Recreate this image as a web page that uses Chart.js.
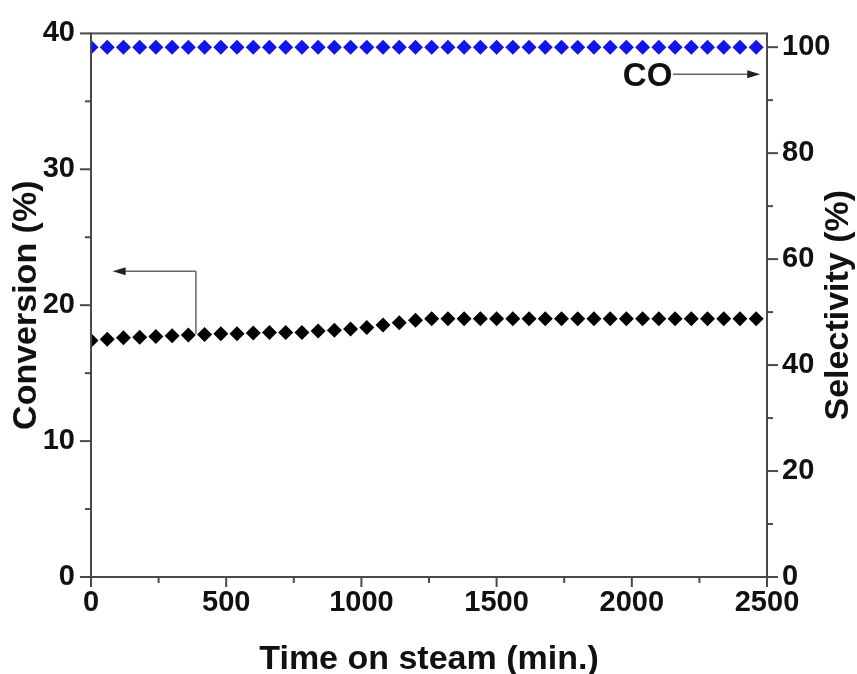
<!DOCTYPE html>
<html>
<head>
<meta charset="utf-8">
<script src="https://cdn.jsdelivr.net/npm/chart.js@4.4.1/dist/chart.umd.min.js"></script>
<style>
    html, body { margin: 0; padding: 0; background: #fff; }
    #wrap { width: 857px; height: 674px; }
</style>
</head>
<body>
<div id="wrap"><canvas id="chart"></canvas></div>
<script>
// Data
const timeMin = [0, 60, 120, 180, 240, 300, 360, 420, 480, 540, 600, 660, 720, 780,
    840, 900, 960, 1020, 1080, 1140, 1200, 1260, 1320, 1380, 1440, 1500, 1560, 1620,
    1680, 1740, 1800, 1860, 1920, 1980, 2040, 2100, 2160, 2220, 2280, 2340, 2400, 2460];
const conversion = [17.4, 17.5, 17.6, 17.65, 17.7, 17.75, 17.8, 17.85, 17.9, 17.9, 17.95,
    18.0, 18.0, 18.0, 18.1, 18.15, 18.25, 18.35, 18.55, 18.7, 18.9, 19.0,
    19.0, 19.0, 19.0, 19.0, 19.0, 19.0, 19.0, 19.0, 19.0, 19.0,
    19.0, 19.0, 19.0, 19.0, 19.0, 19.0, 19.0, 19.0, 19.0, 19.0];
const selectivityCO = [100, 100, 100, 100, 100, 100, 100, 100, 100, 100, 100, 100, 100, 100,
    100, 100, 100, 100, 100, 100, 100, 100, 100, 100, 100, 100, 100, 100,
    100, 100, 100, 100, 100, 100, 100, 100, 100, 100, 100, 100, 100, 100];

const xTicks = [0, 500, 1000, 1500, 2000, 2500];
const xMinor = [250, 750, 1250, 1750, 2250];
const convTicks = [0, 10, 20, 30, 40];
const convMinor = [5, 15, 25, 35];
const selTicks = [0, 20, 40, 60, 80, 100];
const selMinor = [10, 30, 50, 70, 90];

const AXIS_COLOR = '#4a4a4a';
const FONT = "'Liberation Sans', Arial, sans-serif";

const toPoints = (ys) => timeMin.map((t, i) => ({ x: t, y: ys[i] }));
const fixedTicks = (list) => (scale) => {
    scale.ticks = list.map((v) => ({ value: v }));
};

// Frame, tick marks, right title and the two arrow notes
const decorations = {
    id: 'decorations',
    afterDatasetsDraw(chart) {
        const { ctx, chartArea: a, scales } = chart;
        const line = (x1, y1, x2, y2) => {
            ctx.beginPath();
            ctx.moveTo(x1, y1);
            ctx.lineTo(x2, y2);
            ctx.stroke();
        };
        const head = (x, y, dir) => {
            ctx.beginPath();
            ctx.moveTo(x, y);
            ctx.lineTo(x - dir * 13, y - 4);
            ctx.lineTo(x - dir * 13, y + 4);
            ctx.closePath();
            ctx.fill();
        };

        ctx.save();
        ctx.strokeStyle = AXIS_COLOR;
        ctx.lineWidth = 2;
        ctx.strokeRect(a.left, a.top, a.right - a.left, a.bottom - a.top);

        convTicks.forEach((v) => { const y = scales.y.getPixelForValue(v); line(a.left - 11, y, a.left, y); });
        convMinor.forEach((v) => { const y = scales.y.getPixelForValue(v); line(a.left - 6, y, a.left, y); });
        selTicks.forEach((v) => { const y = scales.y2.getPixelForValue(v); line(a.right, y, a.right + 11, y); });
        selMinor.forEach((v) => { const y = scales.y2.getPixelForValue(v); line(a.right, y, a.right + 6, y); });
        xTicks.forEach((v) => { const x = scales.x.getPixelForValue(v); line(x, a.bottom, x, a.bottom + 10); });
        xMinor.forEach((v) => { const x = scales.x.getPixelForValue(v); line(x, a.bottom, x, a.bottom + 6); });

        // arrow pointing to the conversion axis
        ctx.strokeStyle = '#666';
        ctx.fillStyle = '#222';
        ctx.lineWidth = 1.5;
        const ax = scales.x.getPixelForValue(388);
        const ay = scales.y.getPixelForValue(22.5);
        const ayEnd = scales.y.getPixelForValue(17.9);
        const tipL = scales.x.getPixelForValue(80);
        line(ax, ayEnd, ax, ay);
        line(ax, ay, tipL + 6, ay);
        head(tipL, ay, -1);

        // CO label with arrow pointing to the selectivity axis
        const cy = scales.y2.getPixelForValue(94.9);
        const tipR = scales.x.getPixelForValue(2475);
        ctx.fillStyle = '#111';
        ctx.font = 'bold 33px ' + FONT;
        ctx.textAlign = 'right';
        ctx.textBaseline = 'middle';
        ctx.fillText('CO', scales.x.getPixelForValue(2150), cy + 3);
        ctx.fillStyle = '#222';
        line(scales.x.getPixelForValue(2152), cy, tipR - 6, cy);
        head(tipR, cy, 1);

        // right axis title, reading bottom to top
        ctx.translate(839, (a.top + a.bottom) / 2);
        ctx.rotate(-Math.PI / 2);
        ctx.fillStyle = '#111';
        ctx.textAlign = 'center';
        ctx.font = 'bold 34px ' + FONT;
        ctx.fillText('Selectivity (%)', 0, 0);
        ctx.restore();
    },
};

new Chart(document.getElementById('chart'), {
    type: 'scatter',
    data: {
        datasets: [
            {
                label: 'Conversion',
                data: toPoints(conversion),
                yAxisID: 'y',
                pointStyle: 'rectRot',
                pointRadius: 7.5,
                pointBackgroundColor: '#000',
                pointBorderColor: '#000',
                pointBorderWidth: 0,
                clip: 0,
            },
            {
                label: 'Selectivity CO',
                data: toPoints(selectivityCO),
                yAxisID: 'y2',
                pointStyle: 'rectRot',
                pointRadius: 7.5,
                pointBackgroundColor: '#1212f2',
                pointBorderColor: '#1212f2',
                pointBorderWidth: 0,
                clip: 0,
            },
        ],
    },
    options: {
        responsive: true,
        maintainAspectRatio: false,
        animation: false,
        layout: { padding: { top: 30, left: 0, right: 0, bottom: 0 } },
        plugins: {
            legend: { display: false },
            tooltip: { enabled: false },
        },
        scales: {
            x: {
                type: 'linear',
                min: 0,
                max: 2500,
                afterBuildTicks: fixedTicks(xTicks),
                afterFit: (s) => { s.height = 97; },
                grid: { display: false, drawTicks: false },
                border: { display: false },
                ticks: {
                    padding: 9,
                    color: '#111',
                    font: { family: FONT, size: 29, weight: 'bold' },
                    callback: (v) => String(v),
                },
                title: {
                    display: true,
                    text: 'Time on steam (min.)',
                    color: '#111',
                    padding: { top: 0, bottom: -6 },
                    font: { family: FONT, size: 34, weight: 'bold' },
                },
            },
            y: {
                position: 'left',
                min: 0,
                max: 40,
                afterBuildTicks: fixedTicks(convTicks),
                afterFit: (s) => { s.width = 91; },
                grid: { display: false, drawTicks: false },
                border: { display: false },
                ticks: {
                    padding: 16,
                    color: '#111',
                    font: { family: FONT, size: 29, weight: 'bold' },
                },
                title: {
                    display: true,
                    text: 'Conversion (%)',
                    color: '#111',
                    padding: { top: 6, bottom: 0 },
                    font: { family: FONT, size: 34, weight: 'bold' },
                },
            },
            y2: {
                position: 'right',
                min: 0,
                max: 102.6,
                afterBuildTicks: fixedTicks(selTicks),
                afterFit: (s) => { s.width = 90; },
                grid: { display: false, drawTicks: false },
                border: { display: false },
                ticks: {
                    padding: 15,
                    color: '#111',
                    font: { family: FONT, size: 29, weight: 'bold' },
                },
            },
        },
    },
    plugins: [decorations],
});
</script>
</body>
</html>
